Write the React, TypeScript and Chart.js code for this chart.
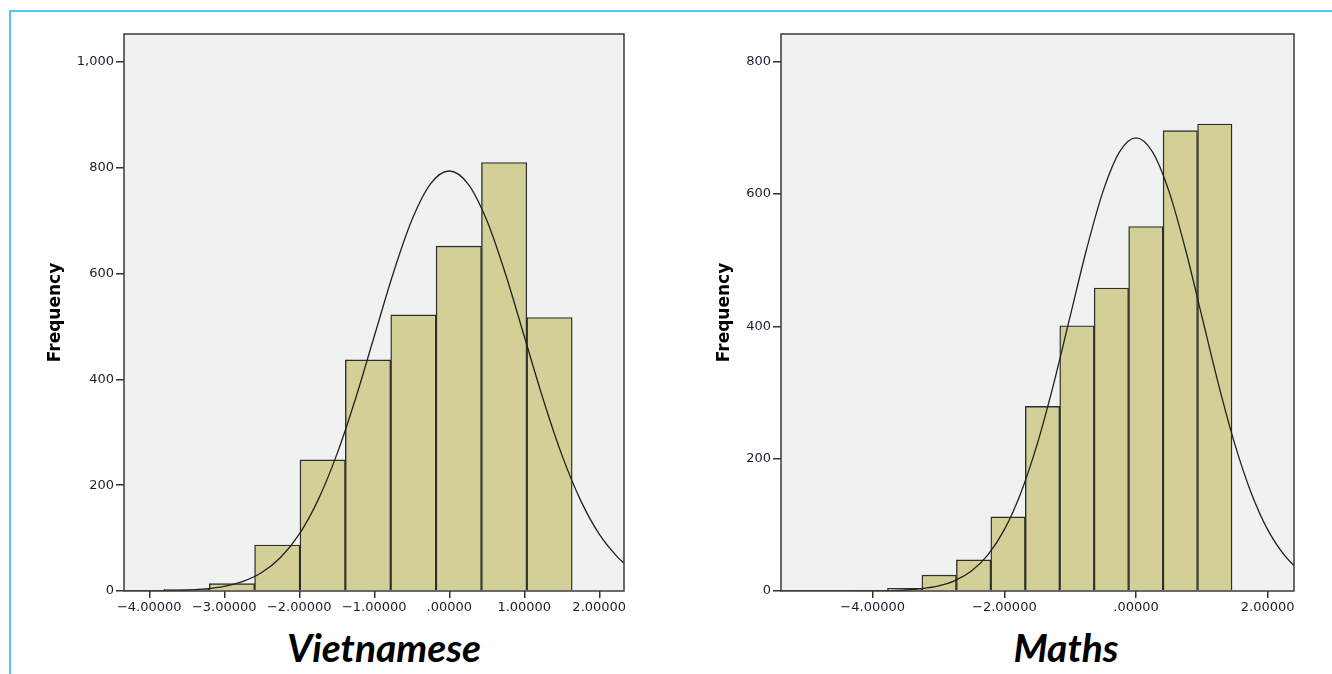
import React, { useEffect, useRef } from 'react';
import { Chart, registerables } from 'chart.js';
Chart.register(...registerables);
Chart.defaults.font.family = "'DejaVu Sans', sans-serif";

// ---------- Vietnamese ----------
const viBinCenters = [-3.503, -2.898, -2.293, -1.688, -1.083, -0.478, 0.127, 0.732, 1.337];
const viCounts = [3, 14, 87, 248, 437, 522, 652, 810, 517];
const viCurveX = [-4.337, -4, -3.75, -3.5, -3.25, -3, -2.75, -2.5, -2.25, -2, -1.75, -1.5, -1.25, -1, -0.75, -0.5, -0.25, 0, 0.25, 0.5, 0.75, 1, 1.25, 1.5, 1.75, 2, 2.25, 2.337];
const viCurveY = [0.1, 0.3, 0.7, 1.7, 4.0, 8.8, 18.1, 34.9, 63.2, 107.5, 171.8, 257.8, 363.5, 481.6, 599.3, 700.7, 769.6, 794, 769.6, 700.7, 599.3, 481.6, 363.5, 257.8, 171.8, 107.5, 63.2, 51.7];
const viXTicks = [-4, -3, -2, -1, 0, 1, 2];
const viXTickLabels = ['−4.00000', '−3.00000', '−2.00000', '−1.00000', '.00000', '1.00000', '2.00000'];
const viYTicks = [0, 200, 400, 600, 800, 1000];
const viYTickLabels = ['0', '200', '400', '600', '800', '1,000'];

// ---------- Maths ----------
const maBinCenters = [-4.037, -3.514, -2.991, -2.467, -1.944, -1.420, -0.897, -0.374, 0.150, 0.673, 1.197];
const maCounts = [1, 4, 24, 47, 112, 279, 401, 458, 551, 696, 706];
const maCurveX = [-5.393, -5, -4.75, -4.5, -4.25, -4, -3.75, -3.5, -3.25, -3, -2.75, -2.5, -2.25, -2, -1.75, -1.5, -1.25, -1, -0.75, -0.5, -0.25, 0, 0.25, 0.5, 0.75, 1, 1.25, 1.5, 1.75, 2, 2.25, 2.4];
const maCurveY = [0, 0, 0, 0, 0.1, 0.2, 0.6, 1.5, 3.5, 7.6, 15.6, 30.1, 54.5, 92.7, 148.2, 222.4, 313.6, 415.5, 517.0, 604.5, 663.9, 685, 663.9, 604.5, 517.0, 415.5, 313.6, 222.4, 148.2, 92.7, 54.5, 38.4];
const maXTicks = [-4, -2, 0, 2];
const maXTickLabels = ['−4.00000', '−2.00000', '.00000', '2.00000'];
const maYTicks = [0, 200, 400, 600, 800];
const maYTickLabels = ['0', '200', '400', '600', '800'];

const framePlugin = {
  id: 'frame',
  beforeDraw(chart: any) {
    const { ctx, chartArea } = chart;
    ctx.save();
    ctx.fillStyle = '#f0f1f1';
    ctx.fillRect(chartArea.left, chartArea.top, chartArea.right - chartArea.left, chartArea.bottom - chartArea.top);
    ctx.restore();
  },
  afterDraw(chart: any) {
    const { ctx, chartArea } = chart;
    ctx.save();
    ctx.strokeStyle = '#3a3a3a';
    ctx.lineWidth = 1.5;
    ctx.strokeRect(chartArea.left, chartArea.top, chartArea.right - chartArea.left, chartArea.bottom - chartArea.top);
    ctx.restore();
  },
};

type HistProps = {
  left: number; width: number; height: number;
  centers: number[]; counts: number[]; curveX: number[]; curveY: number[];
  xMin: number; xMax: number; yMax: number;
  xTicks: number[]; xTickLabels: string[]; yTicks: number[]; yTickLabels: string[];
  yAxisWidth: number; padRight: number; titlePad: number;
};

function Hist(p: HistProps) {
  const ref = useRef<HTMLCanvasElement | null>(null);
  useEffect(() => {
    if (!ref.current) return;
    const tickColor = '#1c1c30';
    const chart = new Chart(ref.current, {
      type: 'bar',
      data: {
        datasets: [
          {
            type: 'line',
            data: p.curveX.map((x, i) => ({ x, y: p.curveY[i] })),
            borderColor: '#222',
            borderWidth: 1.3,
            pointRadius: 0,
            cubicInterpolationMode: 'monotone',
            fill: false,
            order: 0,
          } as any,
          {
            type: 'bar',
            data: p.centers.map((x, i) => ({ x, y: p.counts[i] })),
            backgroundColor: '#d2cf97',
            borderColor: '#2e2e2e',
            borderWidth: 1.4,
            barPercentage: 1,
            categoryPercentage: 1,
            order: 1,
          } as any,
        ],
      },
      options: {
        animation: false,
        responsive: false,
        devicePixelRatio: 1,
        layout: { padding: { top: 34, right: p.padRight, left: 0, bottom: 0 } },
        plugins: { legend: { display: false }, tooltip: { enabled: false } },
        scales: {
          x: {
            type: 'linear',
            min: p.xMin,
            max: p.xMax,
            offset: false,
            afterBuildTicks: (s: any) => { s.ticks = p.xTicks.map((v) => ({ value: v })); },
            afterFit: (s: any) => { s.height = p.height - 591; },
            grid: { offset: false, drawOnChartArea: false, drawTicks: true, tickLength: 7, color: '#333', lineWidth: 1.5 },
            border: { display: false },
            ticks: {
              autoSkip: false, maxRotation: 0, padding: 2, color: tickColor, font: { size: 13 },
              callback: (v: any) => p.xTickLabels[p.xTicks.indexOf(Number(v))] ?? '',
            },
          },
          y: {
            type: 'linear',
            min: 0,
            max: p.yMax,
            afterBuildTicks: (s: any) => { s.ticks = p.yTicks.map((v) => ({ value: v })); },
            afterFit: (s: any) => { s.width = p.yAxisWidth; },
            grid: { offset: false, drawOnChartArea: false, drawTicks: true, tickLength: 8, color: '#333', lineWidth: 1.5 },
            border: { display: false },
            title: {
              display: true, text: 'Frequency', color: '#000',
              font: { size: 17, weight: 'bold' }, padding: { top: p.titlePad, bottom: 0 },
            },
            ticks: {
              autoSkip: false, padding: 2, color: tickColor, font: { size: 13 },
              callback: (v: any) => p.yTickLabels[p.yTicks.indexOf(Number(v))] ?? '',
            },
          },
        },
      } as any,
      plugins: [framePlugin],
    });
    return () => chart.destroy();
  }, []);
  return (
    <canvas
      ref={ref}
      width={p.width}
      height={p.height}
      style={{ position: 'absolute', left: p.left, top: 0, width: p.width, height: p.height }}
    />
  );
}

const titleStyle: React.CSSProperties = {
  position: 'absolute',
  top: 627,
  height: 40,
  lineHeight: '40px',
  fontFamily: 'Lato, sans-serif',
  fontWeight: 'bold',
  fontStyle: 'italic',
  fontSize: 39,
  color: '#000',
  textAlign: 'center',
  whiteSpace: 'nowrap',
};

export default function App() {
  return (
    <div style={{ position: 'absolute', left: 0, top: 0, width: 1332, height: 674, overflow: 'hidden', background: '#fff' }}>
      <div style={{ position: 'absolute', left: 9, top: 10, width: 1323, height: 664, boxSizing: 'border-box', borderTop: '2px solid #56c5f2', borderLeft: '2px solid #56c5f2' }} />
      <Hist
        left={0} width={640} height={620}
        centers={viBinCenters} counts={viCounts} curveX={viCurveX} curveY={viCurveY}
        xMin={-4.337} xMax={2.33} yMax={1053}
        xTicks={viXTicks} xTickLabels={viXTickLabels} yTicks={viYTicks} yTickLabels={viYTickLabels}
        yAxisWidth={124} padRight={16} titlePad={45}
      />
      <Hist
        left={660} width={672} height={620}
        centers={maBinCenters} counts={maCounts} curveX={maCurveX} curveY={maCurveY}
        xMin={-5.393} xMax={2.4} yMax={842}
        xTicks={maXTicks} xTickLabels={maXTickLabels} yTicks={maYTicks} yTickLabels={maYTickLabels}
        yAxisWidth={121} padRight={38} titlePad={54}
      />
      <div style={{ ...titleStyle, left: 284, width: 200 }}>Vietnamese</div>
      <div style={{ ...titleStyle, left: 966, width: 200 }}>Maths</div>
    </div>
  );
}
